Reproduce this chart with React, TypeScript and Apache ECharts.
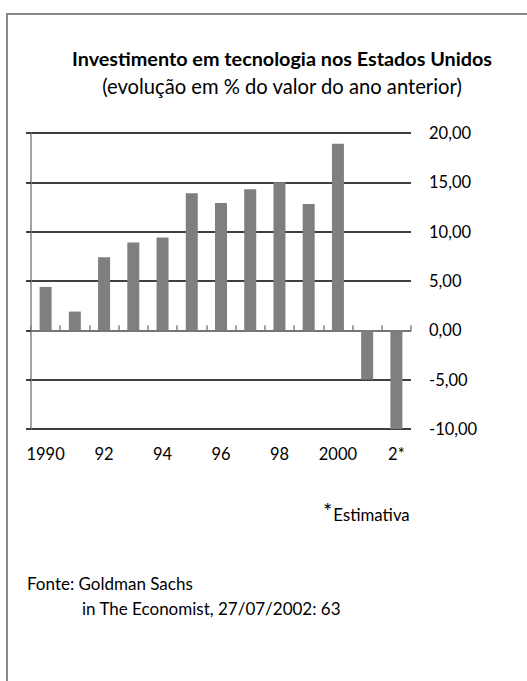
import React, { useEffect, useRef } from "react";
import * as echarts from "echarts";

const categories = ["1990", "1991", "1992", "1993", "1994", "1995", "1996", "1997", "1998", "1999", "2000", "2001", "2002"];
const tickLabels = ["1990", "", "92", "", "94", "", "96", "", "98", "", "2000", "", "2*"];
const values = [4.4, 1.9, 7.4, 8.9, 9.4, 13.9, 12.9, 14.3, 15.0, 12.8, 18.9, -5.0, -10.0];
const titleText = "Investimento em tecnologia nos Estados Unidos";
const subtitleText = "(evolução em % do valor do ano anterior)";
const noteText = "Estimativa";
const sourceLine1 = "Fonte: Goldman Sachs";
const sourceLine2 = "in The Economist, 27/07/2002: 63";

const FONT = "Lato";

export default function App() {
  const ref = useRef<HTMLDivElement>(null);
  useEffect(() => {
    if (!ref.current) return;
    const chart = echarts.init(ref.current, null, { renderer: "svg" });
    const yCommon = { type: "value" as const, min: -10, max: 20, interval: 5 };
    chart.setOption({
      animation: false,
      backgroundColor: "#fff",
      title: [
        {
          text: titleText,
          left: 277,
          top: 43,
          textAlign: "center",
          textStyle: { fontFamily: FONT, fontSize: 19.8, fontWeight: "bold", color: "#000" },
        },
        {
          text: subtitleText,
          left: 277,
          top: 71,
          textAlign: "center",
          textStyle: { fontFamily: FONT, fontSize: 20.2, fontWeight: "normal", color: "#000" },
        },
      ],
      grid: { left: 31, top: 133, width: 380, height: 296, containLabel: false },
      xAxis: [
        {
          type: "category",
          data: categories,
          position: "bottom",
          axisLine: { show: true, onZero: true, lineStyle: { color: "#868686", width: 1.5 } },
          axisTick: { show: true, inside: true, length: 5, interval: 0, lineStyle: { color: "#868686", width: 1.5 } },
          axisLabel: { show: false },
          splitLine: { show: false },
        },
        {
          type: "category",
          data: categories,
          position: "bottom",
          axisLine: { show: false, onZero: false },
          axisTick: { show: false },
          splitLine: { show: false },
          axisLabel: {
            show: true,
            interval: 0,
            margin: 16,
            fontFamily: FONT,
            fontSize: 16.5,
            color: "#000",
            formatter: (_v: string, i: number) => tickLabels[i],
          },
        },
      ],
      yAxis: [
        {
          ...yCommon,
          position: "left",
          axisLine: { show: true, lineStyle: { color: "#868686", width: 1.5 } },
          axisTick: { show: true, inside: false, length: 5, lineStyle: { color: "#000", width: 1.5 } },
          axisLabel: { show: false },
          splitLine: { show: true, lineStyle: { color: "#000", width: 1.5 } },
        },
        {
          ...yCommon,
          position: "right",
          axisLine: { show: false },
          axisTick: { show: false },
          splitLine: { show: false },
          axisLabel: {
            show: true,
            margin: 18,
            fontFamily: FONT,
            fontSize: 16.5,
            color: "#000",
            formatter: (v: number) => v.toFixed(2).replace(".", ","),
          },
        },
      ],
      series: [
        {
          type: "bar",
          xAxisIndex: 0,
          yAxisIndex: 0,
          data: values,
          barWidth: 12,
          itemStyle: { color: "#7f7f7f" },
        },
      ],
      graphic: [
        {
          type: "line",
          shape: { x1: 7, y1: 13, x2: 7, y2: 681 },
          style: { stroke: "#888", lineWidth: 2 },
        },
        {
          type: "line",
          shape: { x1: 6, y1: 14, x2: 527, y2: 14 },
          style: { stroke: "#888", lineWidth: 2 },
        },
        {
          type: "text",
          x: 323,
          y: 512,
          style: {
            text: "{a|*}{b|" + noteText + "}",
            verticalAlign: "middle",
            rich: {
              a: { fontFamily: FONT, fontSize: 22, fill: "#000", padding: [0, 1, 4, 0] },
              b: { fontFamily: FONT, fontSize: 16.8, fill: "#000", padding: [4, 0, 0, 0] },
            },
          },
        },
        {
          type: "text",
          x: 27,
          y: 583,
          style: { text: sourceLine1, fontFamily: FONT, fontSize: 17, fill: "#000", verticalAlign: "middle" },
        },
        {
          type: "text",
          x: 82,
          y: 608,
          style: { text: sourceLine2, fontFamily: FONT, fontSize: 17, fill: "#000", verticalAlign: "middle" },
        },
      ],
    });
    return () => chart.dispose();
  }, []);
  return <div ref={ref} style={{ position: "fixed", left: 0, top: 0, width: 527, height: 681 }} />;
}
